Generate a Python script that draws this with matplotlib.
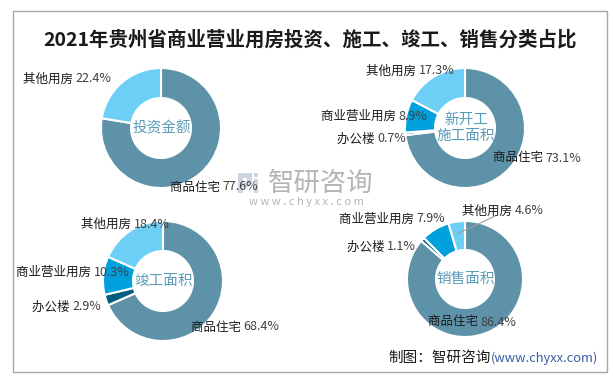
import matplotlib.pyplot as plt
from matplotlib.patches import Rectangle

plt.rcParams['font.family'] = ['Noto Sans CJK SC', 'DejaVu Sans']

# 数据
titulo = '2021年贵州省商业营业用房投资、施工、竣工、销售分类占比'
paneles = ['投资金额', '新开工\n施工面积', '竣工面积', '销售面积']

cat_inversion = ['商品住宅', '其他用房']
val_inversion = [77.6, 22.4]

cat_obras = ['商品住宅', '办公楼', '商业营业用房', '其他用房']
val_nuevas = [73.1, 0.7, 8.9, 17.3]
val_terminadas = [68.4, 2.9, 10.3, 18.4]
val_ventas = [86.4, 1.1, 7.9, 4.6]

colores = {'商品住宅': '#5D92A9', '办公楼': '#005F7F',
           '商业营业用房': '#00A0DC', '其他用房': '#6DCFF6'}

W, H = 613, 380
fig = plt.figure(figsize=(W / 100, H / 100), dpi=100)
ax = fig.add_axes([0, 0, 1, 1])

# centro de cada dona (pixeles, y desde arriba) y posiciones de etiquetas
centros = [(161, 128), (465, 128), (163, 281), (465, 279)]
radios = [60, 60, 60, 58]
pos_etiquetas = [
    [(170, 187), (23, 79)],
    [(493, 158), (337, 139), (321, 116), (366, 71)],
    [(191, 327), (32, 307), (16, 272), (81, 224)],
    [(428, 322), (347, 247), (339, 219), (462, 211)],
]
datos = [(cat_inversion, val_inversion), (cat_obras, val_nuevas),
         (cat_obras, val_terminadas), (cat_obras, val_ventas)]

for i, (cats, vals) in enumerate(datos):
    cx, cy = centros[i]
    ax.pie(vals, colors=[colores[c] for c in cats], startangle=90,
           counterclock=False, center=(cx, H - cy), radius=radios[i],
           wedgeprops=dict(width=radios[i] * 0.5, edgecolor='white', linewidth=1.5))
    ax.text(cx + 1, H - cy, paneles[i], ha='center', va='center',
            fontsize=10.5, color='#5B9BBA', linespacing=1.15)
    for (c, v), (px, py) in zip(zip(cats, vals), pos_etiquetas[i]):
        t = ax.text(px, H - py, c + ' ', ha='left', va='center',
                    fontsize=9, color='#1A1A1A')
        ax.annotate(f'{v}%', xy=(1, 0.5), xycoords=t, va='center',
                    fontsize=9, color='#404040')

# linea guia de 其他用房 en ventas
ax.plot([457, 495], [H - 234, H - 216], color='#A0A0A0', lw=0.8)

ax.set_xlim(0, W)
ax.set_ylim(0, H)
ax.set_aspect('equal')
ax.axis('off')

# marco y titulo
fig.patches.append(Rectangle((13 / W, 1 - 372 / H), 594 / W, 361 / H,
                             transform=fig.transFigure, fill=False,
                             edgecolor='#A6A6A6', lw=1))
ax.text(310, H - 40, titulo, ha='center', va='center', fontsize=14,
        fontweight='bold', color='#1A1A1A')

# marca de agua (logo con rectangulos)
for x0, y0, w, h in [(238, 173, 5, 20), (243, 173, 9, 5), (247, 178, 5, 6),
                     (243, 183, 6, 4), (254, 173, 4, 4), (254, 179, 4, 14)]:
    ax.add_patch(Rectangle((x0, H - y0 - h), w, h, color='#CDD5E3', lw=0))
ax.text(321, H - 183, '智研咨询', ha='center', va='center', fontsize=19,
        color='#B4B4B4')
ax.text(306, H - 202, 'w w w . c h y x x . c o m', ha='center', va='center',
        fontsize=8, color='#B4B4B4')

# fuente
f = ax.text(388, H - 358, '制图：智研咨询', ha='left', va='center',
            fontsize=10.5, color='#1A1A1A')
ax.annotate('(www.chyxx.com)', xy=(1, 0.5), xycoords=f, va='center',
            fontsize=9.3, color='#3A5F9F')

plt.savefig('out.png', dpi=100)
